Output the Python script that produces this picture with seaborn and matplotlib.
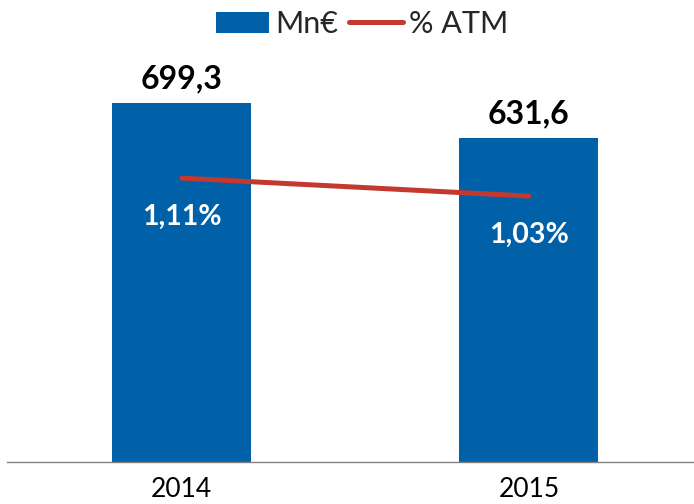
import numpy as np
import matplotlib.pyplot as plt
import seaborn as sns

# datos
years = ["2014", "2015"]
importe_mn = [699.3, 631.6]
pct_atm = [1.11, 1.03]
etiquetas_mn = ["699,3", "631,6"]
etiquetas_pct = ["1,11%", "1,03%"]

azul = "#0060A8"
rojo = "#C3392F"

sns.set_theme(style="white")
plt.rcParams["font.family"] = ["Lato", "DejaVu Sans"]

fig = plt.figure(figsize=(6.94, 5.04), dpi=100)
ax = fig.add_axes([7 / 694, 42 / 504, 687 / 694, 422 / 504])

# barras (Mn€)
sns.barplot(x=years, y=importe_mn, color=azul, width=0.4, saturation=1,
            linewidth=0, ax=ax, label="Mn€")
ax.bar_label(ax.containers[0], labels=etiquetas_mn, padding=7,
             fontsize=23, fontweight="bold", color="black")

# linea (% ATM) en eje secundario
ax2 = ax.twinx()
sns.lineplot(x=np.arange(len(years)), y=pct_atm, color=rojo, linewidth=3.6,
             ax=ax2, label="% ATM")
for xi, yi, txt in zip(np.arange(len(years)), pct_atm, etiquetas_pct):
    ax2.annotate(txt, (xi, yi), xytext=(0, -28), textcoords="offset points",
                 ha="center", va="center", fontsize=20.5, fontweight="bold",
                 color="white")

ax.set_xlim(-0.504, 1.476)
ax.set_ylim(0, 822)
ax2.set_ylim(-0.152, 1.724)

for a in (ax, ax2):
    a.set_yticks([])
    a.set_ylabel("")
    for s in ["top", "left", "right"]:
        a.spines[s].set_visible(False)
ax2.spines["bottom"].set_visible(False)
ax.spines["bottom"].set_color("#808080")
ax.spines["bottom"].set_linewidth(1.0)
ax.tick_params(axis="x", length=0, pad=11, labelsize=19, labelcolor="black")

h1, l1 = ax.get_legend_handles_labels()
h2, l2 = ax2.get_legend_handles_labels()
for a in (ax, ax2):
    if a.get_legend() is not None:
        a.get_legend().remove()
fig.legend(h1 + h2, l1 + l2, loc="center", bbox_to_anchor=(362 / 694, 1 - 24 / 504),
           ncol=2, frameon=False, fontsize=22, handlelength=1.75,
           handletextpad=0.2, columnspacing=0.35)

fig.savefig("out.png", dpi=100)
